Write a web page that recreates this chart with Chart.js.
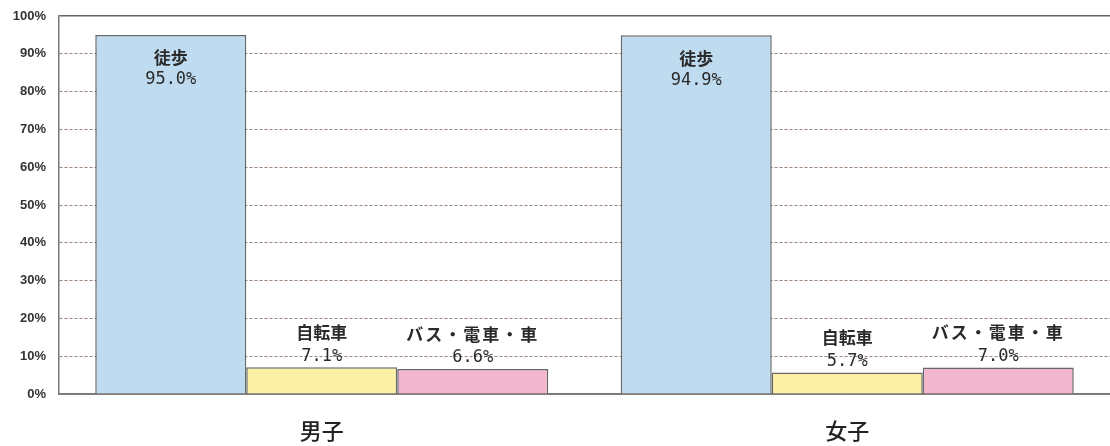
<!DOCTYPE html>
<html>
<head>
<meta charset="utf-8">
<script src="https://cdn.jsdelivr.net/npm/chart.js@4/dist/chart.umd.min.js"></script>
<style>
html,body{margin:0;padding:0;background:#fff;}
#wrap{width:1110px;height:446px;position:relative;}
</style>
</head>
<body>
<div id="wrap"><canvas id="c" width="1110" height="446"></canvas></div>
<script>
const categories = ['男子', '女子'];
const seriesNames = ['徒歩', '自転車', 'バス・電車・車'];
const walkValues = [95.0, 94.9];
const bikeValues = [7.1, 5.7];
const busValues = [6.6, 7.0];
const yTicks = [0, 10, 20, 30, 40, 50, 60, 70, 80, 90, 100];

const colors = ['#bedbef', '#fbf0a4', '#f2b7cf'];

const labelPlugin = {
  id: 'barLabels',
  afterDatasetsDraw(chart) {
    const ctx = chart.ctx;
    chart.data.datasets.forEach((ds, di) => {
      const meta = chart.getDatasetMeta(di);
      meta.data.forEach((el, i) => {
        const v = ds.data[i];
        const x = el.x, y = el.y;
        let y1, y2;
        if (v > 50) { y1 = y + 23; y2 = y + 45; }
        else { y1 = y - 35; y2 = y - 11; }
        ctx.save();
        ctx.fillStyle = '#2a2a2a';
        ctx.textAlign = 'center';
        ctx.textBaseline = 'middle';
        ctx.font = 'bold 17px "Noto Sans CJK JP"';
        if (ctx.letterSpacing !== undefined && ds.label.length > 3) ctx.letterSpacing = '2px';
        ctx.fillText(ds.label, x, y1);
        if (ctx.letterSpacing !== undefined) ctx.letterSpacing = '0px';
        ctx.font = '17px "DejaVu Sans Mono"';
        ctx.fillText(v.toFixed(1) + '%', x, y2);
        ctx.restore();
      });
    });
  }
};

new Chart(document.getElementById('c'), {
  type: 'bar',
  data: {
    labels: categories,
    datasets: [
      { label: seriesNames[0], data: walkValues, backgroundColor: colors[0] },
      { label: seriesNames[1], data: bikeValues, backgroundColor: colors[1] },
      { label: seriesNames[2], data: busValues, backgroundColor: colors[2] }
    ].map(d => Object.assign(d, { borderColor: '#666', borderWidth: 1.5, categoryPercentage: 0.862, barPercentage: 1.0 }))
  },
  options: {
    responsive: false,
    animation: false,
    devicePixelRatio: 1,
    layout: { padding: { top: 16, right: 0, left: 0, bottom: 0 } },
    plugins: { legend: { display: false }, tooltip: { enabled: false } },
    scales: {
      x: {
        grid: { display: false },
        border: { display: true, color: '#777', width: 1.5 },
        ticks: { color: '#222', font: { family: '"Noto Sans CJK JP"', size: 22, weight: '500' }, padding: 15 },
        afterFit: s => { s.height = 52; }
      },
      y: {
        min: 0, max: 100,
        afterBuildTicks: s => { s.ticks = yTicks.map(v => ({ value: v })); },
        ticks: {
          callback: v => v + '%',
          color: '#333',
          font: { family: '"Liberation Sans"', size: 13, weight: 'bold' },
          padding: 13
        },
        grid: {
          drawTicks: false,
          color: ctx => (ctx.tick && ctx.tick.value === 100) ? '#6a625e' : '#9c847a',
          lineWidth: ctx => (ctx.tick && ctx.tick.value === 100) ? 1.5 : 1
        },
        border: {
          display: true, color: '#777', width: 1.5,
          dash: ctx => (ctx.tick && (ctx.tick.value === 100 || ctx.tick.value === 0)) ? [] : [3, 2]
        },
        afterFit: s => { s.width = 59; s.paddingTop = 0; s.paddingBottom = 0; }
      }
    }
  },
  plugins: [labelPlugin]
});
</script>
</body>
</html>
